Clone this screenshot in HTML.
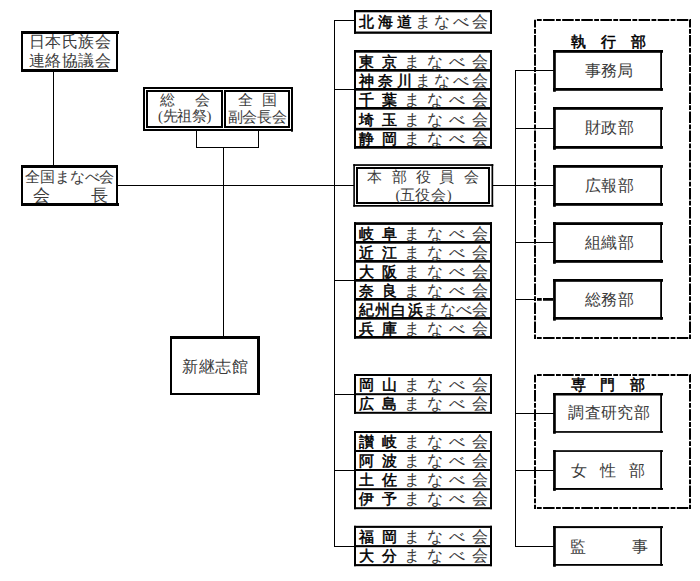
<!DOCTYPE html>
<html lang="ja"><head><meta charset="utf-8"><title>組織図</title>
<style>
html,body{margin:0;padding:0;background:#fff;}
body{width:700px;height:581px;overflow:hidden;font-family:"Liberation Serif",serif;}
svg{display:block;}
</style></head><body>
<svg width="700" height="581" viewBox="0 0 700 581">
<rect x="0" y="0" width="700" height="581" fill="#fff"/>
<rect x="53" y="72" width="1" height="94" fill="#000"/>
<rect x="118" y="185" width="236" height="1" fill="#000"/>
<rect x="492" y="185" width="62" height="1" fill="#000"/>
<rect x="196" y="131" width="1" height="17" fill="#000"/>
<rect x="258" y="131" width="1" height="17" fill="#000"/>
<rect x="196" y="147" width="63" height="1" fill="#000"/>
<rect x="223" y="147" width="1" height="190" fill="#000"/>
<rect x="334" y="20" width="1" height="527" fill="#000"/>
<rect x="334" y="20" width="21" height="1" fill="#000"/>
<rect x="334" y="89" width="21" height="1" fill="#000"/>
<rect x="334" y="280" width="21" height="1" fill="#000"/>
<rect x="334" y="394" width="21" height="1" fill="#000"/>
<rect x="334" y="470" width="21" height="1" fill="#000"/>
<rect x="334" y="546" width="21" height="1" fill="#000"/>
<rect x="515" y="70" width="1" height="477" fill="#000"/>
<rect x="515" y="70" width="39" height="1" fill="#000"/>
<rect x="515" y="128" width="39" height="1" fill="#000"/>
<rect x="515" y="242" width="39" height="1" fill="#000"/>
<rect x="515" y="413" width="39" height="1" fill="#000"/>
<rect x="515" y="470" width="39" height="1" fill="#000"/>
<rect x="515" y="546" width="39" height="1" fill="#000"/>
<rect x="515" y="299" width="20" height="1" fill="#000"/>
<rect x="537" y="298" width="4.75" height="2.75" fill="#000"/>
<rect x="543" y="298" width="10" height="2.75" fill="#000"/>
<rect x="21" y="31" width="97" height="3" fill="#000"/>
<rect x="21" y="69" width="97" height="3" fill="#000"/>
<rect x="21" y="31" width="2" height="41" fill="#000"/>
<rect x="116" y="31" width="2" height="41" fill="#000"/>
<rect x="21" y="165" width="97" height="3" fill="#000"/>
<rect x="21" y="203" width="97" height="3" fill="#000"/>
<rect x="21" y="165" width="2" height="41" fill="#000"/>
<rect x="116" y="165" width="2" height="41" fill="#000"/>
<rect x="118" y="31" width="1" height="3" fill="#000"/>
<rect x="118" y="203" width="1" height="3" fill="#000"/>
<rect x="143" y="87" width="150" height="2" fill="#000"/>
<rect x="143" y="129" width="150" height="2" fill="#000"/>
<rect x="143" y="87" width="2" height="44" fill="#000"/>
<rect x="291" y="87" width="2" height="44" fill="#000"/>
<rect x="146" y="90" width="77" height="2" fill="#000"/>
<rect x="146" y="126" width="77" height="2" fill="#000"/>
<rect x="146" y="90" width="2" height="38" fill="#000"/>
<rect x="221" y="90" width="2" height="38" fill="#000"/>
<rect x="224" y="90" width="66" height="2" fill="#000"/>
<rect x="224" y="126" width="66" height="2" fill="#000"/>
<rect x="224" y="90" width="2" height="38" fill="#000"/>
<rect x="288" y="90" width="2" height="38" fill="#000"/>
<rect x="291" y="130" width="2" height="1.7" fill="#000"/>
<rect x="170" y="336" width="90" height="3" fill="#000"/>
<rect x="170" y="393" width="90" height="2" fill="#000"/>
<rect x="170" y="336" width="2" height="59" fill="#000"/>
<rect x="257" y="336" width="3" height="59" fill="#000"/>
<rect x="353.3" y="164.2" width="140" height="1.7" fill="#000"/>
<rect x="353.3" y="205" width="140" height="1.7" fill="#000"/>
<rect x="353.3" y="164.2" width="1.6" height="42.5" fill="#000"/>
<rect x="491.5" y="164.2" width="1.7" height="42.5" fill="#000"/>
<rect x="356" y="167" width="134" height="2" fill="#000"/>
<rect x="356" y="202" width="134" height="2" fill="#000"/>
<rect x="356" y="167" width="2" height="37" fill="#000"/>
<rect x="488" y="167" width="2" height="37" fill="#000"/>
<rect x="354" y="10" width="138" height="2.3" fill="#000"/>
<rect x="354" y="31.5" width="138" height="2.3" fill="#000"/>
<rect x="354" y="10" width="2" height="23.799999999999997" fill="#000"/>
<rect x="490" y="10" width="2" height="23.799999999999997" fill="#000"/>
<text x="366.3" y="21.099999999999998" font-size="15" font-family="'Liberation Sans', sans-serif" font-weight="normal" fill="#000" stroke="#000" stroke-width="0.5" text-anchor="middle" dominant-baseline="central">北</text>
<text x="385.25" y="21.099999999999998" font-size="15" font-family="'Liberation Sans', sans-serif" font-weight="normal" fill="#000" stroke="#000" stroke-width="0.5" text-anchor="middle" dominant-baseline="central">海</text>
<text x="404.2" y="21.099999999999998" font-size="15" font-family="'Liberation Sans', sans-serif" font-weight="normal" fill="#000" stroke="#000" stroke-width="0.5" text-anchor="middle" dominant-baseline="central">道</text>
<text x="423.15" y="21.099999999999998" font-size="16" font-family="'Liberation Serif', serif" font-weight="normal" fill="#3c3c3c" text-anchor="middle" dominant-baseline="central">ま</text>
<text x="442.1" y="21.099999999999998" font-size="16" font-family="'Liberation Serif', serif" font-weight="normal" fill="#3c3c3c" text-anchor="middle" dominant-baseline="central">な</text>
<text x="461.05" y="21.099999999999998" font-size="16" font-family="'Liberation Serif', serif" font-weight="normal" fill="#3c3c3c" text-anchor="middle" dominant-baseline="central">べ</text>
<text x="480.0" y="21.099999999999998" font-size="16" font-family="'Liberation Serif', serif" font-weight="normal" fill="#3c3c3c" text-anchor="middle" dominant-baseline="central">会</text>
<rect x="354" y="50" width="138" height="2.7" fill="#000"/>
<rect x="354" y="146" width="138" height="2.7" fill="#000"/>
<rect x="354" y="50" width="2" height="98.69999999999999" fill="#000"/>
<rect x="490" y="50" width="2" height="98.69999999999999" fill="#000"/>
<rect x="354" y="69" width="138" height="2.7" fill="#000"/>
<rect x="354" y="88" width="138" height="2.7" fill="#000"/>
<rect x="354" y="107" width="138" height="2.7" fill="#000"/>
<rect x="354" y="127.8" width="138" height="2.7" fill="#000"/>
<text x="366.3" y="61.15" font-size="15" font-family="'Liberation Sans', sans-serif" font-weight="normal" fill="#000" stroke="#000" stroke-width="0.5" text-anchor="middle" dominant-baseline="central">東</text>
<text x="389.04" y="61.15" font-size="15" font-family="'Liberation Sans', sans-serif" font-weight="normal" fill="#000" stroke="#000" stroke-width="0.5" text-anchor="middle" dominant-baseline="central">京</text>
<text x="411.78" y="61.15" font-size="16" font-family="'Liberation Serif', serif" font-weight="normal" fill="#3c3c3c" text-anchor="middle" dominant-baseline="central">ま</text>
<text x="434.52" y="61.15" font-size="16" font-family="'Liberation Serif', serif" font-weight="normal" fill="#3c3c3c" text-anchor="middle" dominant-baseline="central">な</text>
<text x="457.26" y="61.15" font-size="16" font-family="'Liberation Serif', serif" font-weight="normal" fill="#3c3c3c" text-anchor="middle" dominant-baseline="central">べ</text>
<text x="480.0" y="61.15" font-size="16" font-family="'Liberation Serif', serif" font-weight="normal" fill="#3c3c3c" text-anchor="middle" dominant-baseline="central">会</text>
<text x="366.3" y="80.14999999999999" font-size="15" font-family="'Liberation Sans', sans-serif" font-weight="normal" fill="#000" stroke="#000" stroke-width="0.5" text-anchor="middle" dominant-baseline="central">神</text>
<text x="385.25" y="80.14999999999999" font-size="15" font-family="'Liberation Sans', sans-serif" font-weight="normal" fill="#000" stroke="#000" stroke-width="0.5" text-anchor="middle" dominant-baseline="central">奈</text>
<text x="404.2" y="80.14999999999999" font-size="15" font-family="'Liberation Sans', sans-serif" font-weight="normal" fill="#000" stroke="#000" stroke-width="0.5" text-anchor="middle" dominant-baseline="central">川</text>
<text x="423.15" y="80.14999999999999" font-size="16" font-family="'Liberation Serif', serif" font-weight="normal" fill="#3c3c3c" text-anchor="middle" dominant-baseline="central">ま</text>
<text x="442.1" y="80.14999999999999" font-size="16" font-family="'Liberation Serif', serif" font-weight="normal" fill="#3c3c3c" text-anchor="middle" dominant-baseline="central">な</text>
<text x="461.05" y="80.14999999999999" font-size="16" font-family="'Liberation Serif', serif" font-weight="normal" fill="#3c3c3c" text-anchor="middle" dominant-baseline="central">べ</text>
<text x="480.0" y="80.14999999999999" font-size="16" font-family="'Liberation Serif', serif" font-weight="normal" fill="#3c3c3c" text-anchor="middle" dominant-baseline="central">会</text>
<text x="366.3" y="99.14999999999999" font-size="15" font-family="'Liberation Sans', sans-serif" font-weight="normal" fill="#000" stroke="#000" stroke-width="0.5" text-anchor="middle" dominant-baseline="central">千</text>
<text x="389.04" y="99.14999999999999" font-size="15" font-family="'Liberation Sans', sans-serif" font-weight="normal" fill="#000" stroke="#000" stroke-width="0.5" text-anchor="middle" dominant-baseline="central">葉</text>
<text x="411.78" y="99.14999999999999" font-size="16" font-family="'Liberation Serif', serif" font-weight="normal" fill="#3c3c3c" text-anchor="middle" dominant-baseline="central">ま</text>
<text x="434.52" y="99.14999999999999" font-size="16" font-family="'Liberation Serif', serif" font-weight="normal" fill="#3c3c3c" text-anchor="middle" dominant-baseline="central">な</text>
<text x="457.26" y="99.14999999999999" font-size="16" font-family="'Liberation Serif', serif" font-weight="normal" fill="#3c3c3c" text-anchor="middle" dominant-baseline="central">べ</text>
<text x="480.0" y="99.14999999999999" font-size="16" font-family="'Liberation Serif', serif" font-weight="normal" fill="#3c3c3c" text-anchor="middle" dominant-baseline="central">会</text>
<text x="366.3" y="119.05" font-size="15" font-family="'Liberation Sans', sans-serif" font-weight="normal" fill="#000" stroke="#000" stroke-width="0.5" text-anchor="middle" dominant-baseline="central">埼</text>
<text x="389.04" y="119.05" font-size="15" font-family="'Liberation Sans', sans-serif" font-weight="normal" fill="#000" stroke="#000" stroke-width="0.5" text-anchor="middle" dominant-baseline="central">玉</text>
<text x="411.78" y="119.05" font-size="16" font-family="'Liberation Serif', serif" font-weight="normal" fill="#3c3c3c" text-anchor="middle" dominant-baseline="central">ま</text>
<text x="434.52" y="119.05" font-size="16" font-family="'Liberation Serif', serif" font-weight="normal" fill="#3c3c3c" text-anchor="middle" dominant-baseline="central">な</text>
<text x="457.26" y="119.05" font-size="16" font-family="'Liberation Serif', serif" font-weight="normal" fill="#3c3c3c" text-anchor="middle" dominant-baseline="central">べ</text>
<text x="480.0" y="119.05" font-size="16" font-family="'Liberation Serif', serif" font-weight="normal" fill="#3c3c3c" text-anchor="middle" dominant-baseline="central">会</text>
<text x="366.3" y="138.55" font-size="15" font-family="'Liberation Sans', sans-serif" font-weight="normal" fill="#000" stroke="#000" stroke-width="0.5" text-anchor="middle" dominant-baseline="central">静</text>
<text x="389.04" y="138.55" font-size="15" font-family="'Liberation Sans', sans-serif" font-weight="normal" fill="#000" stroke="#000" stroke-width="0.5" text-anchor="middle" dominant-baseline="central">岡</text>
<text x="411.78" y="138.55" font-size="16" font-family="'Liberation Serif', serif" font-weight="normal" fill="#3c3c3c" text-anchor="middle" dominant-baseline="central">ま</text>
<text x="434.52" y="138.55" font-size="16" font-family="'Liberation Serif', serif" font-weight="normal" fill="#3c3c3c" text-anchor="middle" dominant-baseline="central">な</text>
<text x="457.26" y="138.55" font-size="16" font-family="'Liberation Serif', serif" font-weight="normal" fill="#3c3c3c" text-anchor="middle" dominant-baseline="central">べ</text>
<text x="480.0" y="138.55" font-size="16" font-family="'Liberation Serif', serif" font-weight="normal" fill="#3c3c3c" text-anchor="middle" dominant-baseline="central">会</text>
<rect x="354" y="222.2" width="138" height="2.7" fill="#000"/>
<rect x="354" y="336" width="138" height="2.7" fill="#000"/>
<rect x="354" y="222.2" width="2" height="116.5" fill="#000"/>
<rect x="490" y="222.2" width="2" height="116.5" fill="#000"/>
<rect x="354" y="241" width="138" height="2.7" fill="#000"/>
<rect x="354" y="260" width="138" height="2.7" fill="#000"/>
<rect x="354" y="279" width="138" height="2.7" fill="#000"/>
<rect x="354" y="298" width="138" height="2.7" fill="#000"/>
<rect x="354" y="317" width="138" height="2.7" fill="#000"/>
<text x="366.3" y="233.25" font-size="15" font-family="'Liberation Sans', sans-serif" font-weight="normal" fill="#000" stroke="#000" stroke-width="0.5" text-anchor="middle" dominant-baseline="central">岐</text>
<text x="389.04" y="233.25" font-size="15" font-family="'Liberation Sans', sans-serif" font-weight="normal" fill="#000" stroke="#000" stroke-width="0.5" text-anchor="middle" dominant-baseline="central">阜</text>
<text x="411.78" y="233.25" font-size="16" font-family="'Liberation Serif', serif" font-weight="normal" fill="#3c3c3c" text-anchor="middle" dominant-baseline="central">ま</text>
<text x="434.52" y="233.25" font-size="16" font-family="'Liberation Serif', serif" font-weight="normal" fill="#3c3c3c" text-anchor="middle" dominant-baseline="central">な</text>
<text x="457.26" y="233.25" font-size="16" font-family="'Liberation Serif', serif" font-weight="normal" fill="#3c3c3c" text-anchor="middle" dominant-baseline="central">べ</text>
<text x="480.0" y="233.25" font-size="16" font-family="'Liberation Serif', serif" font-weight="normal" fill="#3c3c3c" text-anchor="middle" dominant-baseline="central">会</text>
<text x="366.3" y="252.15" font-size="15" font-family="'Liberation Sans', sans-serif" font-weight="normal" fill="#000" stroke="#000" stroke-width="0.5" text-anchor="middle" dominant-baseline="central">近</text>
<text x="389.04" y="252.15" font-size="15" font-family="'Liberation Sans', sans-serif" font-weight="normal" fill="#000" stroke="#000" stroke-width="0.5" text-anchor="middle" dominant-baseline="central">江</text>
<text x="411.78" y="252.15" font-size="16" font-family="'Liberation Serif', serif" font-weight="normal" fill="#3c3c3c" text-anchor="middle" dominant-baseline="central">ま</text>
<text x="434.52" y="252.15" font-size="16" font-family="'Liberation Serif', serif" font-weight="normal" fill="#3c3c3c" text-anchor="middle" dominant-baseline="central">な</text>
<text x="457.26" y="252.15" font-size="16" font-family="'Liberation Serif', serif" font-weight="normal" fill="#3c3c3c" text-anchor="middle" dominant-baseline="central">べ</text>
<text x="480.0" y="252.15" font-size="16" font-family="'Liberation Serif', serif" font-weight="normal" fill="#3c3c3c" text-anchor="middle" dominant-baseline="central">会</text>
<text x="366.3" y="271.15000000000003" font-size="15" font-family="'Liberation Sans', sans-serif" font-weight="normal" fill="#000" stroke="#000" stroke-width="0.5" text-anchor="middle" dominant-baseline="central">大</text>
<text x="389.04" y="271.15000000000003" font-size="15" font-family="'Liberation Sans', sans-serif" font-weight="normal" fill="#000" stroke="#000" stroke-width="0.5" text-anchor="middle" dominant-baseline="central">阪</text>
<text x="411.78" y="271.15000000000003" font-size="16" font-family="'Liberation Serif', serif" font-weight="normal" fill="#3c3c3c" text-anchor="middle" dominant-baseline="central">ま</text>
<text x="434.52" y="271.15000000000003" font-size="16" font-family="'Liberation Serif', serif" font-weight="normal" fill="#3c3c3c" text-anchor="middle" dominant-baseline="central">な</text>
<text x="457.26" y="271.15000000000003" font-size="16" font-family="'Liberation Serif', serif" font-weight="normal" fill="#3c3c3c" text-anchor="middle" dominant-baseline="central">べ</text>
<text x="480.0" y="271.15000000000003" font-size="16" font-family="'Liberation Serif', serif" font-weight="normal" fill="#3c3c3c" text-anchor="middle" dominant-baseline="central">会</text>
<text x="366.3" y="290.15000000000003" font-size="15" font-family="'Liberation Sans', sans-serif" font-weight="normal" fill="#000" stroke="#000" stroke-width="0.5" text-anchor="middle" dominant-baseline="central">奈</text>
<text x="389.04" y="290.15000000000003" font-size="15" font-family="'Liberation Sans', sans-serif" font-weight="normal" fill="#000" stroke="#000" stroke-width="0.5" text-anchor="middle" dominant-baseline="central">良</text>
<text x="411.78" y="290.15000000000003" font-size="16" font-family="'Liberation Serif', serif" font-weight="normal" fill="#3c3c3c" text-anchor="middle" dominant-baseline="central">ま</text>
<text x="434.52" y="290.15000000000003" font-size="16" font-family="'Liberation Serif', serif" font-weight="normal" fill="#3c3c3c" text-anchor="middle" dominant-baseline="central">な</text>
<text x="457.26" y="290.15000000000003" font-size="16" font-family="'Liberation Serif', serif" font-weight="normal" fill="#3c3c3c" text-anchor="middle" dominant-baseline="central">べ</text>
<text x="480.0" y="290.15000000000003" font-size="16" font-family="'Liberation Serif', serif" font-weight="normal" fill="#3c3c3c" text-anchor="middle" dominant-baseline="central">会</text>
<text x="366.3" y="309.15000000000003" font-size="15" font-family="'Liberation Sans', sans-serif" font-weight="normal" fill="#000" stroke="#000" stroke-width="0.5" text-anchor="middle" dominant-baseline="central">紀</text>
<text x="382.54" y="309.15000000000003" font-size="15" font-family="'Liberation Sans', sans-serif" font-weight="normal" fill="#000" stroke="#000" stroke-width="0.5" text-anchor="middle" dominant-baseline="central">州</text>
<text x="398.79" y="309.15000000000003" font-size="15" font-family="'Liberation Sans', sans-serif" font-weight="normal" fill="#000" stroke="#000" stroke-width="0.5" text-anchor="middle" dominant-baseline="central">白</text>
<text x="415.03" y="309.15000000000003" font-size="15" font-family="'Liberation Sans', sans-serif" font-weight="normal" fill="#000" stroke="#000" stroke-width="0.5" text-anchor="middle" dominant-baseline="central">浜</text>
<text x="431.27" y="309.15000000000003" font-size="16" font-family="'Liberation Serif', serif" font-weight="normal" fill="#3c3c3c" text-anchor="middle" dominant-baseline="central">ま</text>
<text x="447.51" y="309.15000000000003" font-size="16" font-family="'Liberation Serif', serif" font-weight="normal" fill="#3c3c3c" text-anchor="middle" dominant-baseline="central">な</text>
<text x="463.76" y="309.15000000000003" font-size="16" font-family="'Liberation Serif', serif" font-weight="normal" fill="#3c3c3c" text-anchor="middle" dominant-baseline="central">べ</text>
<text x="480.0" y="309.15000000000003" font-size="16" font-family="'Liberation Serif', serif" font-weight="normal" fill="#3c3c3c" text-anchor="middle" dominant-baseline="central">会</text>
<text x="366.3" y="328.15000000000003" font-size="15" font-family="'Liberation Sans', sans-serif" font-weight="normal" fill="#000" stroke="#000" stroke-width="0.5" text-anchor="middle" dominant-baseline="central">兵</text>
<text x="389.04" y="328.15000000000003" font-size="15" font-family="'Liberation Sans', sans-serif" font-weight="normal" fill="#000" stroke="#000" stroke-width="0.5" text-anchor="middle" dominant-baseline="central">庫</text>
<text x="411.78" y="328.15000000000003" font-size="16" font-family="'Liberation Serif', serif" font-weight="normal" fill="#3c3c3c" text-anchor="middle" dominant-baseline="central">ま</text>
<text x="434.52" y="328.15000000000003" font-size="16" font-family="'Liberation Serif', serif" font-weight="normal" fill="#3c3c3c" text-anchor="middle" dominant-baseline="central">な</text>
<text x="457.26" y="328.15000000000003" font-size="16" font-family="'Liberation Serif', serif" font-weight="normal" fill="#3c3c3c" text-anchor="middle" dominant-baseline="central">べ</text>
<text x="480.0" y="328.15000000000003" font-size="16" font-family="'Liberation Serif', serif" font-weight="normal" fill="#3c3c3c" text-anchor="middle" dominant-baseline="central">会</text>
<rect x="354" y="374" width="138" height="2" fill="#000"/>
<rect x="354" y="411.8" width="138" height="2" fill="#000"/>
<rect x="354" y="374" width="2" height="39.80000000000001" fill="#000"/>
<rect x="490" y="374" width="2" height="39.80000000000001" fill="#000"/>
<rect x="354" y="393.2" width="138" height="2" fill="#000"/>
<text x="366.3" y="384.70000000000005" font-size="15" font-family="'Liberation Sans', sans-serif" font-weight="normal" fill="#000" stroke="#000" stroke-width="0.5" text-anchor="middle" dominant-baseline="central">岡</text>
<text x="389.04" y="384.70000000000005" font-size="15" font-family="'Liberation Sans', sans-serif" font-weight="normal" fill="#000" stroke="#000" stroke-width="0.5" text-anchor="middle" dominant-baseline="central">山</text>
<text x="411.78" y="384.70000000000005" font-size="16" font-family="'Liberation Serif', serif" font-weight="normal" fill="#3c3c3c" text-anchor="middle" dominant-baseline="central">ま</text>
<text x="434.52" y="384.70000000000005" font-size="16" font-family="'Liberation Serif', serif" font-weight="normal" fill="#3c3c3c" text-anchor="middle" dominant-baseline="central">な</text>
<text x="457.26" y="384.70000000000005" font-size="16" font-family="'Liberation Serif', serif" font-weight="normal" fill="#3c3c3c" text-anchor="middle" dominant-baseline="central">べ</text>
<text x="480.0" y="384.70000000000005" font-size="16" font-family="'Liberation Serif', serif" font-weight="normal" fill="#3c3c3c" text-anchor="middle" dominant-baseline="central">会</text>
<text x="366.3" y="403.6" font-size="15" font-family="'Liberation Sans', sans-serif" font-weight="normal" fill="#000" stroke="#000" stroke-width="0.5" text-anchor="middle" dominant-baseline="central">広</text>
<text x="389.04" y="403.6" font-size="15" font-family="'Liberation Sans', sans-serif" font-weight="normal" fill="#000" stroke="#000" stroke-width="0.5" text-anchor="middle" dominant-baseline="central">島</text>
<text x="411.78" y="403.6" font-size="16" font-family="'Liberation Serif', serif" font-weight="normal" fill="#3c3c3c" text-anchor="middle" dominant-baseline="central">ま</text>
<text x="434.52" y="403.6" font-size="16" font-family="'Liberation Serif', serif" font-weight="normal" fill="#3c3c3c" text-anchor="middle" dominant-baseline="central">な</text>
<text x="457.26" y="403.6" font-size="16" font-family="'Liberation Serif', serif" font-weight="normal" fill="#3c3c3c" text-anchor="middle" dominant-baseline="central">べ</text>
<text x="480.0" y="403.6" font-size="16" font-family="'Liberation Serif', serif" font-weight="normal" fill="#3c3c3c" text-anchor="middle" dominant-baseline="central">会</text>
<rect x="354" y="431" width="138" height="2" fill="#000"/>
<rect x="354" y="507.2" width="138" height="2" fill="#000"/>
<rect x="354" y="431" width="2" height="78.19999999999999" fill="#000"/>
<rect x="490" y="431" width="2" height="78.19999999999999" fill="#000"/>
<rect x="354" y="450" width="138" height="2" fill="#000"/>
<rect x="354" y="469" width="138" height="2" fill="#000"/>
<rect x="354" y="488.2" width="138" height="2" fill="#000"/>
<text x="366.3" y="441.6" font-size="15" font-family="'Liberation Sans', sans-serif" font-weight="normal" fill="#000" stroke="#000" stroke-width="0.5" text-anchor="middle" dominant-baseline="central">讃</text>
<text x="389.04" y="441.6" font-size="15" font-family="'Liberation Sans', sans-serif" font-weight="normal" fill="#000" stroke="#000" stroke-width="0.5" text-anchor="middle" dominant-baseline="central">岐</text>
<text x="411.78" y="441.6" font-size="16" font-family="'Liberation Serif', serif" font-weight="normal" fill="#3c3c3c" text-anchor="middle" dominant-baseline="central">ま</text>
<text x="434.52" y="441.6" font-size="16" font-family="'Liberation Serif', serif" font-weight="normal" fill="#3c3c3c" text-anchor="middle" dominant-baseline="central">な</text>
<text x="457.26" y="441.6" font-size="16" font-family="'Liberation Serif', serif" font-weight="normal" fill="#3c3c3c" text-anchor="middle" dominant-baseline="central">べ</text>
<text x="480.0" y="441.6" font-size="16" font-family="'Liberation Serif', serif" font-weight="normal" fill="#3c3c3c" text-anchor="middle" dominant-baseline="central">会</text>
<text x="366.3" y="460.6" font-size="15" font-family="'Liberation Sans', sans-serif" font-weight="normal" fill="#000" stroke="#000" stroke-width="0.5" text-anchor="middle" dominant-baseline="central">阿</text>
<text x="389.04" y="460.6" font-size="15" font-family="'Liberation Sans', sans-serif" font-weight="normal" fill="#000" stroke="#000" stroke-width="0.5" text-anchor="middle" dominant-baseline="central">波</text>
<text x="411.78" y="460.6" font-size="16" font-family="'Liberation Serif', serif" font-weight="normal" fill="#3c3c3c" text-anchor="middle" dominant-baseline="central">ま</text>
<text x="434.52" y="460.6" font-size="16" font-family="'Liberation Serif', serif" font-weight="normal" fill="#3c3c3c" text-anchor="middle" dominant-baseline="central">な</text>
<text x="457.26" y="460.6" font-size="16" font-family="'Liberation Serif', serif" font-weight="normal" fill="#3c3c3c" text-anchor="middle" dominant-baseline="central">べ</text>
<text x="480.0" y="460.6" font-size="16" font-family="'Liberation Serif', serif" font-weight="normal" fill="#3c3c3c" text-anchor="middle" dominant-baseline="central">会</text>
<text x="366.3" y="479.70000000000005" font-size="15" font-family="'Liberation Sans', sans-serif" font-weight="normal" fill="#000" stroke="#000" stroke-width="0.5" text-anchor="middle" dominant-baseline="central">土</text>
<text x="389.04" y="479.70000000000005" font-size="15" font-family="'Liberation Sans', sans-serif" font-weight="normal" fill="#000" stroke="#000" stroke-width="0.5" text-anchor="middle" dominant-baseline="central">佐</text>
<text x="411.78" y="479.70000000000005" font-size="16" font-family="'Liberation Serif', serif" font-weight="normal" fill="#3c3c3c" text-anchor="middle" dominant-baseline="central">ま</text>
<text x="434.52" y="479.70000000000005" font-size="16" font-family="'Liberation Serif', serif" font-weight="normal" fill="#3c3c3c" text-anchor="middle" dominant-baseline="central">な</text>
<text x="457.26" y="479.70000000000005" font-size="16" font-family="'Liberation Serif', serif" font-weight="normal" fill="#3c3c3c" text-anchor="middle" dominant-baseline="central">べ</text>
<text x="480.0" y="479.70000000000005" font-size="16" font-family="'Liberation Serif', serif" font-weight="normal" fill="#3c3c3c" text-anchor="middle" dominant-baseline="central">会</text>
<text x="366.3" y="498.8" font-size="15" font-family="'Liberation Sans', sans-serif" font-weight="normal" fill="#000" stroke="#000" stroke-width="0.5" text-anchor="middle" dominant-baseline="central">伊</text>
<text x="389.04" y="498.8" font-size="15" font-family="'Liberation Sans', sans-serif" font-weight="normal" fill="#000" stroke="#000" stroke-width="0.5" text-anchor="middle" dominant-baseline="central">予</text>
<text x="411.78" y="498.8" font-size="16" font-family="'Liberation Serif', serif" font-weight="normal" fill="#3c3c3c" text-anchor="middle" dominant-baseline="central">ま</text>
<text x="434.52" y="498.8" font-size="16" font-family="'Liberation Serif', serif" font-weight="normal" fill="#3c3c3c" text-anchor="middle" dominant-baseline="central">な</text>
<text x="457.26" y="498.8" font-size="16" font-family="'Liberation Serif', serif" font-weight="normal" fill="#3c3c3c" text-anchor="middle" dominant-baseline="central">べ</text>
<text x="480.0" y="498.8" font-size="16" font-family="'Liberation Serif', serif" font-weight="normal" fill="#3c3c3c" text-anchor="middle" dominant-baseline="central">会</text>
<rect x="354" y="525.8" width="138" height="2.1" fill="#000"/>
<rect x="354" y="564.1" width="138" height="2.1" fill="#000"/>
<rect x="354" y="525.8" width="2" height="40.40000000000009" fill="#000"/>
<rect x="490" y="525.8" width="2" height="40.40000000000009" fill="#000"/>
<rect x="354" y="545.1" width="138" height="2.1" fill="#000"/>
<text x="366.3" y="536.6" font-size="15" font-family="'Liberation Sans', sans-serif" font-weight="normal" fill="#000" stroke="#000" stroke-width="0.5" text-anchor="middle" dominant-baseline="central">福</text>
<text x="389.04" y="536.6" font-size="15" font-family="'Liberation Sans', sans-serif" font-weight="normal" fill="#000" stroke="#000" stroke-width="0.5" text-anchor="middle" dominant-baseline="central">岡</text>
<text x="411.78" y="536.6" font-size="16" font-family="'Liberation Serif', serif" font-weight="normal" fill="#3c3c3c" text-anchor="middle" dominant-baseline="central">ま</text>
<text x="434.52" y="536.6" font-size="16" font-family="'Liberation Serif', serif" font-weight="normal" fill="#3c3c3c" text-anchor="middle" dominant-baseline="central">な</text>
<text x="457.26" y="536.6" font-size="16" font-family="'Liberation Serif', serif" font-weight="normal" fill="#3c3c3c" text-anchor="middle" dominant-baseline="central">べ</text>
<text x="480.0" y="536.6" font-size="16" font-family="'Liberation Serif', serif" font-weight="normal" fill="#3c3c3c" text-anchor="middle" dominant-baseline="central">会</text>
<text x="366.3" y="555.7500000000001" font-size="15" font-family="'Liberation Sans', sans-serif" font-weight="normal" fill="#000" stroke="#000" stroke-width="0.5" text-anchor="middle" dominant-baseline="central">大</text>
<text x="389.04" y="555.7500000000001" font-size="15" font-family="'Liberation Sans', sans-serif" font-weight="normal" fill="#000" stroke="#000" stroke-width="0.5" text-anchor="middle" dominant-baseline="central">分</text>
<text x="411.78" y="555.7500000000001" font-size="16" font-family="'Liberation Serif', serif" font-weight="normal" fill="#3c3c3c" text-anchor="middle" dominant-baseline="central">ま</text>
<text x="434.52" y="555.7500000000001" font-size="16" font-family="'Liberation Serif', serif" font-weight="normal" fill="#3c3c3c" text-anchor="middle" dominant-baseline="central">な</text>
<text x="457.26" y="555.7500000000001" font-size="16" font-family="'Liberation Serif', serif" font-weight="normal" fill="#3c3c3c" text-anchor="middle" dominant-baseline="central">べ</text>
<text x="480.0" y="555.7500000000001" font-size="16" font-family="'Liberation Serif', serif" font-weight="normal" fill="#3c3c3c" text-anchor="middle" dominant-baseline="central">会</text>
<path d="M535.5,20 H691" stroke="#000" stroke-width="2" fill="none" stroke-dasharray="11.5 1.4 4.8 1.4" stroke-dashoffset="11.5"/>
<path d="M535.5,338 H691" stroke="#000" stroke-width="2" fill="none" stroke-dasharray="11.5 1.4 4.8 1.4" stroke-dashoffset="11.5"/>
<path d="M535,19.8 V339" stroke="#000" stroke-width="2" fill="none" stroke-dasharray="11.5 1.4 4.8 1.4" stroke-dashoffset="3.8"/>
<path d="M690,19.8 V339" stroke="#000" stroke-width="2" fill="none" stroke-dasharray="11.5 1.4 4.8 1.4" stroke-dashoffset="3.8"/>
<path d="M535.5,375 H691" stroke="#000" stroke-width="2" fill="none" stroke-dasharray="11.5 1.4 4.8 1.4" stroke-dashoffset="11.5"/>
<path d="M535.5,508 H691" stroke="#000" stroke-width="2" fill="none" stroke-dasharray="11.5 1.4 4.8 1.4" stroke-dashoffset="11.5"/>
<path d="M535,374.8 V509" stroke="#000" stroke-width="2" fill="none" stroke-dasharray="11.5 1.4 4.8 1.4" stroke-dashoffset="3.8"/>
<path d="M690,374.8 V509" stroke="#000" stroke-width="2" fill="none" stroke-dasharray="11.5 1.4 4.8 1.4" stroke-dashoffset="3.8"/>
<rect x="553" y="50" width="110" height="2.8" fill="#000"/>
<rect x="553" y="88" width="110" height="2.8" fill="#000"/>
<rect x="553.1" y="50" width="2.7" height="41.8" fill="#000"/>
<rect x="660.2" y="50" width="1.8" height="40.8" fill="#000"/>
<rect x="553" y="107" width="110" height="2.8" fill="#000"/>
<rect x="553" y="146" width="110" height="2.8" fill="#000"/>
<rect x="553.1" y="107" width="2.7" height="42.80000000000001" fill="#000"/>
<rect x="660.2" y="107" width="1.8" height="41.80000000000001" fill="#000"/>
<rect x="553" y="165" width="110" height="2.8" fill="#000"/>
<rect x="553" y="203" width="110" height="2.8" fill="#000"/>
<rect x="553.1" y="165" width="2.7" height="41.80000000000001" fill="#000"/>
<rect x="660.2" y="165" width="1.8" height="40.80000000000001" fill="#000"/>
<rect x="553" y="222.2" width="110" height="2.8" fill="#000"/>
<rect x="553" y="260" width="110" height="2.8" fill="#000"/>
<rect x="553.1" y="222.2" width="2.7" height="41.60000000000002" fill="#000"/>
<rect x="660.2" y="222.2" width="1.8" height="40.60000000000002" fill="#000"/>
<rect x="553" y="279" width="110" height="2.8" fill="#000"/>
<rect x="553" y="317" width="110" height="2.7" fill="#000"/>
<rect x="553.1" y="279" width="2.7" height="41.69999999999999" fill="#000"/>
<rect x="660.2" y="279" width="1.8" height="40.69999999999999" fill="#000"/>
<rect x="553" y="393" width="110" height="2.5" fill="#000"/>
<rect x="553" y="431.1" width="110" height="1.7" fill="#000"/>
<rect x="553.1" y="393" width="2.7" height="40.80000000000001" fill="#000"/>
<rect x="660.2" y="393" width="1.8" height="39.80000000000001" fill="#000"/>
<rect x="553" y="450.2" width="110" height="1.7" fill="#000"/>
<rect x="553" y="488" width="110" height="1.9" fill="#000"/>
<rect x="553.1" y="450.2" width="2.7" height="40.69999999999999" fill="#000"/>
<rect x="660.2" y="450.2" width="1.8" height="39.69999999999999" fill="#000"/>
<rect x="553" y="526.1" width="110" height="2" fill="#000"/>
<rect x="553" y="564" width="110" height="1.8" fill="#000"/>
<rect x="553.1" y="526.1" width="2.7" height="40.69999999999993" fill="#000"/>
<rect x="660.2" y="526.1" width="1.8" height="39.69999999999993" fill="#000"/>
<text x="36.5" y="41.6" font-size="16" font-family="'Liberation Serif', serif" font-weight="normal" fill="#3c3c3c" text-anchor="middle" dominant-baseline="central">日</text>
<text x="53.05" y="41.6" font-size="16" font-family="'Liberation Serif', serif" font-weight="normal" fill="#3c3c3c" text-anchor="middle" dominant-baseline="central">本</text>
<text x="69.6" y="41.6" font-size="16" font-family="'Liberation Serif', serif" font-weight="normal" fill="#3c3c3c" text-anchor="middle" dominant-baseline="central">氏</text>
<text x="86.15" y="41.6" font-size="16" font-family="'Liberation Serif', serif" font-weight="normal" fill="#3c3c3c" text-anchor="middle" dominant-baseline="central">族</text>
<text x="102.7" y="41.6" font-size="16" font-family="'Liberation Serif', serif" font-weight="normal" fill="#3c3c3c" text-anchor="middle" dominant-baseline="central">会</text>
<text x="36.5" y="60.5" font-size="16" font-family="'Liberation Serif', serif" font-weight="normal" fill="#3c3c3c" text-anchor="middle" dominant-baseline="central">連</text>
<text x="53.05" y="60.5" font-size="16" font-family="'Liberation Serif', serif" font-weight="normal" fill="#3c3c3c" text-anchor="middle" dominant-baseline="central">絡</text>
<text x="69.6" y="60.5" font-size="16" font-family="'Liberation Serif', serif" font-weight="normal" fill="#3c3c3c" text-anchor="middle" dominant-baseline="central">協</text>
<text x="86.15" y="60.5" font-size="16" font-family="'Liberation Serif', serif" font-weight="normal" fill="#3c3c3c" text-anchor="middle" dominant-baseline="central">議</text>
<text x="102.7" y="60.5" font-size="16" font-family="'Liberation Serif', serif" font-weight="normal" fill="#3c3c3c" text-anchor="middle" dominant-baseline="central">会</text>
<text x="32.9" y="176.8" font-size="15" font-family="'Liberation Serif', serif" font-weight="normal" fill="#3c3c3c" text-anchor="middle" dominant-baseline="central">全</text>
<text x="47.7" y="176.8" font-size="15" font-family="'Liberation Serif', serif" font-weight="normal" fill="#3c3c3c" text-anchor="middle" dominant-baseline="central">国</text>
<text x="62.5" y="176.8" font-size="15" font-family="'Liberation Serif', serif" font-weight="normal" fill="#3c3c3c" text-anchor="middle" dominant-baseline="central">ま</text>
<text x="77.3" y="176.8" font-size="15" font-family="'Liberation Serif', serif" font-weight="normal" fill="#3c3c3c" text-anchor="middle" dominant-baseline="central">な</text>
<text x="92.1" y="176.8" font-size="15" font-family="'Liberation Serif', serif" font-weight="normal" fill="#3c3c3c" text-anchor="middle" dominant-baseline="central">べ</text>
<text x="106.9" y="176.8" font-size="15" font-family="'Liberation Serif', serif" font-weight="normal" fill="#3c3c3c" text-anchor="middle" dominant-baseline="central">会</text>
<text x="41.1" y="195.3" font-size="16.5" font-family="'Liberation Serif', serif" font-weight="normal" fill="#3c3c3c" text-anchor="middle" dominant-baseline="central">会</text>
<text x="99.2" y="195.3" font-size="16.5" font-family="'Liberation Serif', serif" font-weight="normal" fill="#3c3c3c" text-anchor="middle" dominant-baseline="central">長</text>
<text x="167.7" y="99.8" font-size="14.7" font-family="'Liberation Serif', serif" font-weight="normal" fill="#3c3c3c" text-anchor="middle" dominant-baseline="central">総</text>
<text x="202.5" y="99.8" font-size="14.7" font-family="'Liberation Serif', serif" font-weight="normal" fill="#3c3c3c" text-anchor="middle" dominant-baseline="central">会</text>
<text x="160.5" y="116.3" font-size="14.7" font-family="'Liberation Serif', serif" font-weight="normal" fill="#3c3c3c" text-anchor="middle" dominant-baseline="central">(</text>
<text x="170.6" y="116.3" font-size="14.7" font-family="'Liberation Serif', serif" font-weight="normal" fill="#3c3c3c" text-anchor="middle" dominant-baseline="central">先</text>
<text x="184.8" y="116.3" font-size="14.7" font-family="'Liberation Serif', serif" font-weight="normal" fill="#3c3c3c" text-anchor="middle" dominant-baseline="central">祖</text>
<text x="199.2" y="116.3" font-size="14.7" font-family="'Liberation Serif', serif" font-weight="normal" fill="#3c3c3c" text-anchor="middle" dominant-baseline="central">祭</text>
<text x="209" y="116.3" font-size="14.7" font-family="'Liberation Serif', serif" font-weight="normal" fill="#3c3c3c" text-anchor="middle" dominant-baseline="central">)</text>
<text x="245.2" y="99.8" font-size="14.7" font-family="'Liberation Serif', serif" font-weight="normal" fill="#3c3c3c" text-anchor="middle" dominant-baseline="central">全</text>
<text x="269.7" y="99.8" font-size="14.7" font-family="'Liberation Serif', serif" font-weight="normal" fill="#3c3c3c" text-anchor="middle" dominant-baseline="central">国</text>
<text x="235.2" y="116.5" font-size="14.7" font-family="'Liberation Serif', serif" font-weight="normal" fill="#3c3c3c" text-anchor="middle" dominant-baseline="central">副</text>
<text x="249.87" y="116.5" font-size="14.7" font-family="'Liberation Serif', serif" font-weight="normal" fill="#3c3c3c" text-anchor="middle" dominant-baseline="central">会</text>
<text x="264.54" y="116.5" font-size="14.7" font-family="'Liberation Serif', serif" font-weight="normal" fill="#3c3c3c" text-anchor="middle" dominant-baseline="central">長</text>
<text x="279.21" y="116.5" font-size="14.7" font-family="'Liberation Serif', serif" font-weight="normal" fill="#3c3c3c" text-anchor="middle" dominant-baseline="central">会</text>
<text x="190.1" y="366" font-size="16" font-family="'Liberation Serif', serif" font-weight="normal" fill="#3c3c3c" text-anchor="middle" dominant-baseline="central">新</text>
<text x="206.7" y="366" font-size="16" font-family="'Liberation Serif', serif" font-weight="normal" fill="#3c3c3c" text-anchor="middle" dominant-baseline="central">継</text>
<text x="223.3" y="366" font-size="16" font-family="'Liberation Serif', serif" font-weight="normal" fill="#3c3c3c" text-anchor="middle" dominant-baseline="central">志</text>
<text x="239.9" y="366" font-size="16" font-family="'Liberation Serif', serif" font-weight="normal" fill="#3c3c3c" text-anchor="middle" dominant-baseline="central">館</text>
<text x="374.4" y="176.8" font-size="14.7" font-family="'Liberation Serif', serif" font-weight="normal" fill="#3c3c3c" text-anchor="middle" dominant-baseline="central">本</text>
<text x="399" y="176.8" font-size="14.7" font-family="'Liberation Serif', serif" font-weight="normal" fill="#3c3c3c" text-anchor="middle" dominant-baseline="central">部</text>
<text x="423.1" y="176.8" font-size="14.7" font-family="'Liberation Serif', serif" font-weight="normal" fill="#3c3c3c" text-anchor="middle" dominant-baseline="central">役</text>
<text x="446.4" y="176.8" font-size="14.7" font-family="'Liberation Serif', serif" font-weight="normal" fill="#3c3c3c" text-anchor="middle" dominant-baseline="central">員</text>
<text x="471.4" y="176.8" font-size="14.7" font-family="'Liberation Serif', serif" font-weight="normal" fill="#3c3c3c" text-anchor="middle" dominant-baseline="central">会</text>
<text x="398" y="194.5" font-size="14.7" font-family="'Liberation Serif', serif" font-weight="normal" fill="#3c3c3c" text-anchor="middle" dominant-baseline="central">(</text>
<text x="407.8" y="194.5" font-size="14.7" font-family="'Liberation Serif', serif" font-weight="normal" fill="#3c3c3c" text-anchor="middle" dominant-baseline="central">五</text>
<text x="422.7" y="194.5" font-size="14.7" font-family="'Liberation Serif', serif" font-weight="normal" fill="#3c3c3c" text-anchor="middle" dominant-baseline="central">役</text>
<text x="438" y="194.5" font-size="14.7" font-family="'Liberation Serif', serif" font-weight="normal" fill="#3c3c3c" text-anchor="middle" dominant-baseline="central">会</text>
<text x="449.2" y="194.5" font-size="14.7" font-family="'Liberation Serif', serif" font-weight="normal" fill="#3c3c3c" text-anchor="middle" dominant-baseline="central">)</text>
<text x="578.5" y="41.5" font-size="15" font-family="'Liberation Sans', sans-serif" font-weight="normal" fill="#000" stroke="#000" stroke-width="0.5" text-anchor="middle" dominant-baseline="central">執</text>
<text x="608.5" y="41.5" font-size="15" font-family="'Liberation Sans', sans-serif" font-weight="normal" fill="#000" stroke="#000" stroke-width="0.5" text-anchor="middle" dominant-baseline="central">行</text>
<text x="638" y="41.5" font-size="15" font-family="'Liberation Sans', sans-serif" font-weight="normal" fill="#000" stroke="#000" stroke-width="0.5" text-anchor="middle" dominant-baseline="central">部</text>
<text x="592.8" y="70.6" font-size="16" font-family="'Liberation Serif', serif" font-weight="normal" fill="#3c3c3c" text-anchor="middle" dominant-baseline="central">事</text>
<text x="609.0" y="70.6" font-size="16" font-family="'Liberation Serif', serif" font-weight="normal" fill="#3c3c3c" text-anchor="middle" dominant-baseline="central">務</text>
<text x="625.2" y="70.6" font-size="16" font-family="'Liberation Serif', serif" font-weight="normal" fill="#3c3c3c" text-anchor="middle" dominant-baseline="central">局</text>
<text x="592.8" y="127" font-size="16" font-family="'Liberation Serif', serif" font-weight="normal" fill="#3c3c3c" text-anchor="middle" dominant-baseline="central">財</text>
<text x="609.2" y="127" font-size="16" font-family="'Liberation Serif', serif" font-weight="normal" fill="#3c3c3c" text-anchor="middle" dominant-baseline="central">政</text>
<text x="625.6" y="127" font-size="16" font-family="'Liberation Serif', serif" font-weight="normal" fill="#3c3c3c" text-anchor="middle" dominant-baseline="central">部</text>
<text x="592.8" y="185" font-size="16" font-family="'Liberation Serif', serif" font-weight="normal" fill="#3c3c3c" text-anchor="middle" dominant-baseline="central">広</text>
<text x="609.2" y="185" font-size="16" font-family="'Liberation Serif', serif" font-weight="normal" fill="#3c3c3c" text-anchor="middle" dominant-baseline="central">報</text>
<text x="625.6" y="185" font-size="16" font-family="'Liberation Serif', serif" font-weight="normal" fill="#3c3c3c" text-anchor="middle" dominant-baseline="central">部</text>
<text x="592.8" y="242" font-size="16" font-family="'Liberation Serif', serif" font-weight="normal" fill="#3c3c3c" text-anchor="middle" dominant-baseline="central">組</text>
<text x="609.2" y="242" font-size="16" font-family="'Liberation Serif', serif" font-weight="normal" fill="#3c3c3c" text-anchor="middle" dominant-baseline="central">織</text>
<text x="625.6" y="242" font-size="16" font-family="'Liberation Serif', serif" font-weight="normal" fill="#3c3c3c" text-anchor="middle" dominant-baseline="central">部</text>
<text x="592.8" y="299" font-size="16" font-family="'Liberation Serif', serif" font-weight="normal" fill="#3c3c3c" text-anchor="middle" dominant-baseline="central">総</text>
<text x="609.2" y="299" font-size="16" font-family="'Liberation Serif', serif" font-weight="normal" fill="#3c3c3c" text-anchor="middle" dominant-baseline="central">務</text>
<text x="625.6" y="299" font-size="16" font-family="'Liberation Serif', serif" font-weight="normal" fill="#3c3c3c" text-anchor="middle" dominant-baseline="central">部</text>
<text x="578.5" y="384.5" font-size="15" font-family="'Liberation Sans', sans-serif" font-weight="normal" fill="#000" stroke="#000" stroke-width="0.5" text-anchor="middle" dominant-baseline="central">専</text>
<text x="607.5" y="384.5" font-size="15" font-family="'Liberation Sans', sans-serif" font-weight="normal" fill="#000" stroke="#000" stroke-width="0.5" text-anchor="middle" dominant-baseline="central">門</text>
<text x="637.8" y="384.5" font-size="15" font-family="'Liberation Sans', sans-serif" font-weight="normal" fill="#000" stroke="#000" stroke-width="0.5" text-anchor="middle" dominant-baseline="central">部</text>
<text x="576.2" y="412.7" font-size="16" font-family="'Liberation Serif', serif" font-weight="normal" fill="#3c3c3c" text-anchor="middle" dominant-baseline="central">調</text>
<text x="592.6" y="412.7" font-size="16" font-family="'Liberation Serif', serif" font-weight="normal" fill="#3c3c3c" text-anchor="middle" dominant-baseline="central">査</text>
<text x="609.0" y="412.7" font-size="16" font-family="'Liberation Serif', serif" font-weight="normal" fill="#3c3c3c" text-anchor="middle" dominant-baseline="central">研</text>
<text x="625.4" y="412.7" font-size="16" font-family="'Liberation Serif', serif" font-weight="normal" fill="#3c3c3c" text-anchor="middle" dominant-baseline="central">究</text>
<text x="641.8" y="412.7" font-size="16" font-family="'Liberation Serif', serif" font-weight="normal" fill="#3c3c3c" text-anchor="middle" dominant-baseline="central">部</text>
<text x="578.5" y="470" font-size="16" font-family="'Liberation Serif', serif" font-weight="normal" fill="#3c3c3c" text-anchor="middle" dominant-baseline="central">女</text>
<text x="608" y="470" font-size="16" font-family="'Liberation Serif', serif" font-weight="normal" fill="#3c3c3c" text-anchor="middle" dominant-baseline="central">性</text>
<text x="637.3" y="470" font-size="16" font-family="'Liberation Serif', serif" font-weight="normal" fill="#3c3c3c" text-anchor="middle" dominant-baseline="central">部</text>
<text x="577.5" y="546" font-size="16" font-family="'Liberation Serif', serif" font-weight="normal" fill="#3c3c3c" text-anchor="middle" dominant-baseline="central">監</text>
<text x="639.5" y="546" font-size="16" font-family="'Liberation Serif', serif" font-weight="normal" fill="#3c3c3c" text-anchor="middle" dominant-baseline="central">事</text>
</svg>
</body></html>
